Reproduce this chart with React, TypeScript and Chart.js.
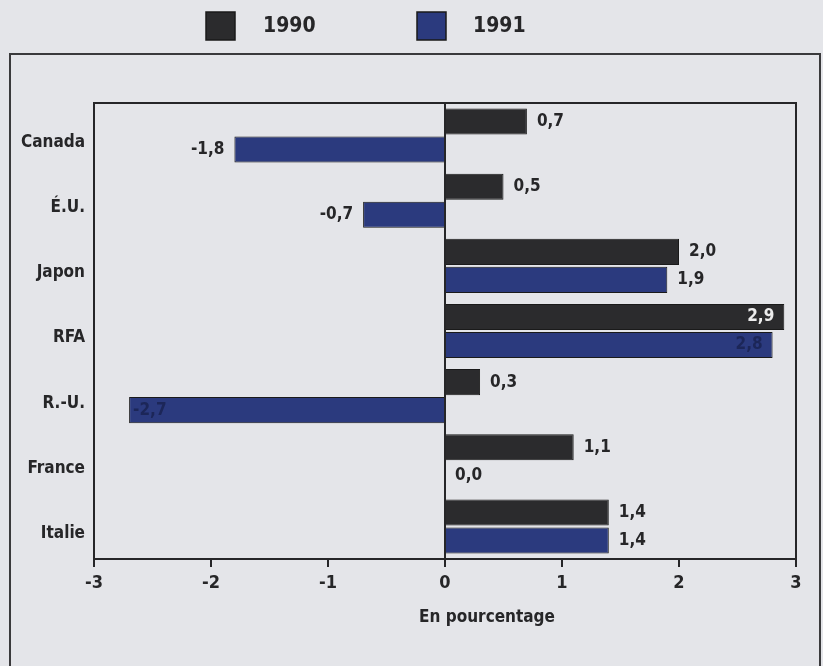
import React, { useEffect, useRef } from "react";
import { Chart, registerables } from "chart.js";

Chart.register(...registerables);

const categories = ["Canada", "É.U.", "Japon", "RFA", "R.-U.", "France", "Italie"];
const seriesLabels = ["1990", "1991"];
const values1990 = [0.7, 0.5, 2.0, 2.9, 0.3, 1.1, 1.4];
const values1991 = [-1.8, -0.7, 1.9, 2.8, -2.7, 0.0, 1.4];
const xTicks = [-3, -2, -1, 0, 1, 2, 3];
const axisTitle = "En pourcentage";

const FONT = "'Liberation Sans Narrow', 'DejaVu Sans Condensed', 'Roboto Condensed', 'Liberation Sans', sans-serif";
const BG = "#e4e5e9";
const INK = "#262628";
const DARK = "#2b2b2d";
const BLUE = "#2b3a7e";

const fmt = (v: number) => v.toFixed(1).replace(".", ",");

const decorPlugin = {
  id: "decor",
  beforeDraw(chart: any) {
    const ctx = chart.ctx;
    ctx.save();
    ctx.fillStyle = BG;
    ctx.fillRect(0, 0, chart.width, chart.height);
    // outer frame
    ctx.strokeStyle = "#3a3a3c";
    ctx.lineWidth = 2;
    ctx.strokeRect(10, 54, 810, 700);
    // legend
    const legendPos = [
      { box: 206, text: 263 },
      { box: 417, text: 473 },
    ];
    chart.data.datasets.forEach((ds: any, i: number) => {
      const p = legendPos[i];
      ctx.fillStyle = ds.backgroundColor;
      ctx.fillRect(p.box, 12, 29, 28);
      ctx.strokeStyle = "#1a1a1a";
      ctx.lineWidth = 1.5;
      ctx.strokeRect(p.box, 12, 29, 28);
      ctx.fillStyle = INK;
      ctx.font = `bold 21px ${FONT}`;
      ctx.textBaseline = "middle";
      ctx.textAlign = "left";
      ctx.fillText(ds.label, p.text, 27);
    });
    ctx.restore();
  },
  afterDatasetsDraw(chart: any) {
    const ctx = chart.ctx;
    const area = chart.chartArea;
    ctx.save();
    // top and right border of plot
    ctx.strokeStyle = INK;
    ctx.lineWidth = 2;
    ctx.beginPath();
    ctx.moveTo(area.left, area.top);
    ctx.lineTo(area.right, area.top);
    ctx.lineTo(area.right, area.bottom);
    ctx.stroke();
    // axis title (set slightly right of centre, as in the original)
    ctx.font = `bold 17px ${FONT}`;
    ctx.fillStyle = INK;
    ctx.textAlign = "center";
    ctx.textBaseline = "middle";
    ctx.fillText(axisTitle, (area.left + area.right) / 2 + 42, area.bottom + 59);
    // value labels
    ctx.font = `bold 17px ${FONT}`;
    ctx.textBaseline = "middle";
    const insideColors = ["#ececec", "#1c2658"];
    chart.data.datasets.forEach((ds: any, di: number) => {
      const meta = chart.getDatasetMeta(di);
      meta.data.forEach((bar: any, i: number) => {
        const v = ds.data[i];
        const text = fmt(v);
        const w = ctx.measureText(text).width;
        const y = bar.y;
        if (v >= 0) {
          const ox = bar.x + 10;
          if (ox + w > area.right - 6) {
            ctx.fillStyle = insideColors[di];
            ctx.textAlign = "right";
            ctx.fillText(text, bar.x - 10, y);
          } else {
            ctx.fillStyle = INK;
            ctx.textAlign = "left";
            ctx.fillText(text, ox, y);
          }
        } else {
          const ox = bar.x - 10;
          if (ox - w < area.left + 6) {
            ctx.fillStyle = insideColors[di];
            ctx.textAlign = "left";
            ctx.fillText(text, bar.x + 4, y);
          } else {
            ctx.fillStyle = INK;
            ctx.textAlign = "right";
            ctx.fillText(text, ox, y);
          }
        }
      });
    });
    ctx.restore();
  },
};

export default function App() {
  const ref = useRef<HTMLCanvasElement | null>(null);

  useEffect(() => {
    if (!ref.current) return;
    const chart = new Chart(ref.current, {
      type: "bar",
      data: {
        labels: categories,
        datasets: [
          {
            label: seriesLabels[0],
            data: values1990,
            backgroundColor: DARK,
            borderColor: "#1a1a1a",
            borderWidth: 1,
            categoryPercentage: 0.86,
            barPercentage: 0.93,
          },
          {
            label: seriesLabels[1],
            data: values1991,
            backgroundColor: BLUE,
            borderColor: "#1a1a1a",
            borderWidth: 1,
            categoryPercentage: 0.86,
            barPercentage: 0.93,
          },
        ],
      },
      options: {
        indexAxis: "y",
        animation: false,
        responsive: false,
        devicePixelRatio: 1,
        layout: { padding: { top: 103, right: 27, left: 0, bottom: 0 } },
        plugins: {
          legend: { display: false },
          tooltip: { enabled: false },
        },
        scales: {
          x: {
            type: "linear",
            min: -3,
            max: 3,
            afterBuildTicks: (scale: any) => {
              scale.ticks = xTicks.map((v) => ({ value: v }));
            },
            afterFit: (scale: any) => {
              scale.height = 107;
            },
            ticks: {
              color: INK,
              font: { family: FONT, size: 18, weight: "bold" },
              padding: 6,
              callback: (v: any) => String(v),
            },
            grid: {
              drawOnChartArea: true,
              color: (c: any) => (c.tick && c.tick.value === 0 ? INK : "rgba(0,0,0,0)"),
              lineWidth: 2,
              drawTicks: true,
              tickLength: 8,
              tickColor: INK,
              tickWidth: 2,
            },
            border: { display: true, color: INK, width: 2 },
            title: { display: false },
          },
          y: {
            type: "category",
            afterFit: (scale: any) => {
              scale.width = 94;
            },
            ticks: {
              color: INK,
              font: { family: FONT, size: 17, weight: "bold" },
              padding: 9,
              labelOffset: 7,
            },
            grid: { display: false, drawTicks: false },
            border: { display: true, color: INK, width: 2 },
          },
        },
      },
      plugins: [decorPlugin],
    } as any);
    return () => chart.destroy();
  }, []);

  return (
    <div style={{ position: "fixed", left: 0, top: 0, width: 823, height: 666, background: BG }}>
      <canvas ref={ref} width={823} height={666} style={{ width: 823, height: 666, display: "block" }} />
    </div>
  );
}
